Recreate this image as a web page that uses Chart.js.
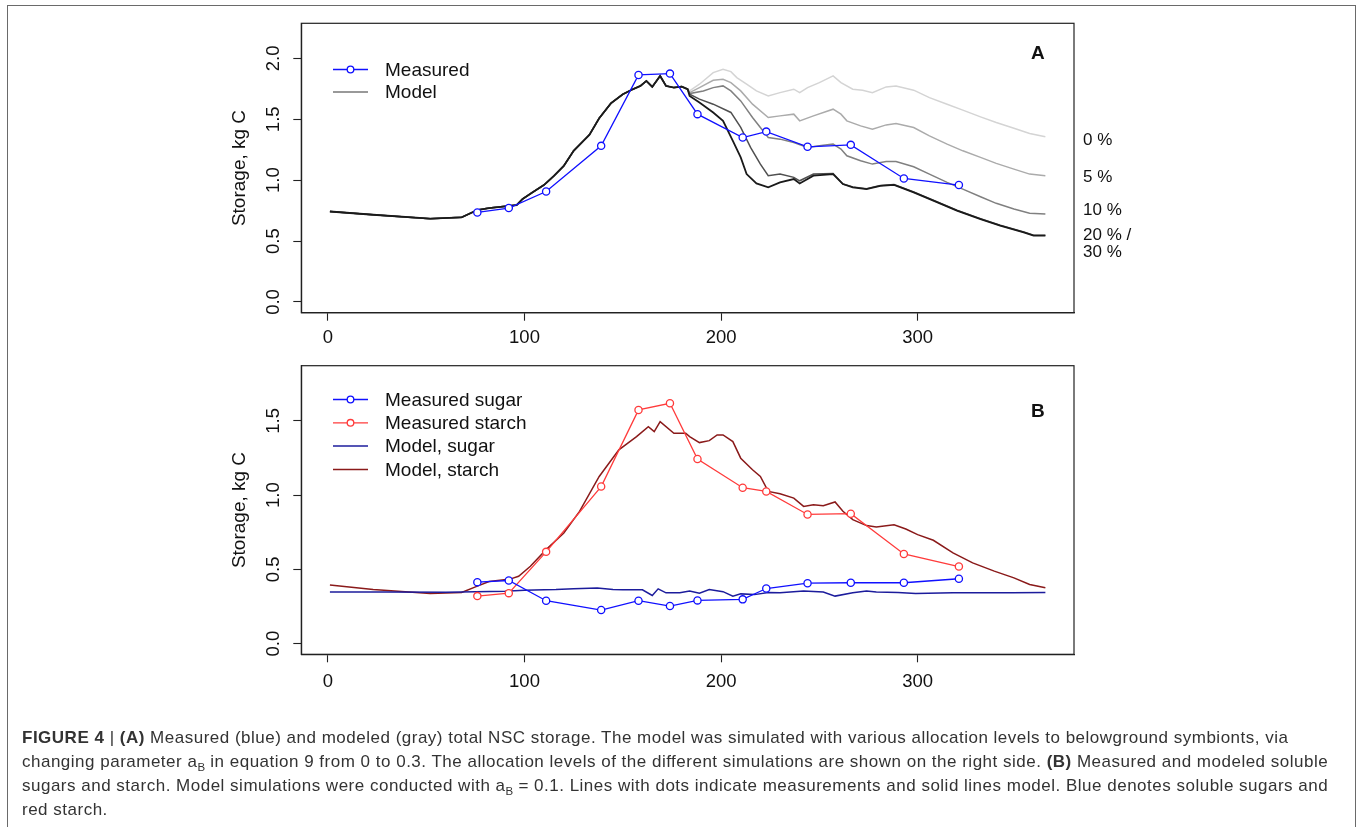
<!DOCTYPE html>
<html><head><meta charset="utf-8">
<script src="https://cdn.jsdelivr.net/npm/chart.js@4.4.0/dist/chart.umd.min.js"></script>
<style>
html,body{margin:0;padding:0;background:#fff;width:1358px;height:827px;overflow:hidden;position:relative;}
#frame{position:absolute;left:7px;top:5px;width:1349px;height:860px;border:1.5px solid #6a6a6a;box-sizing:border-box;}
canvas{position:absolute;left:0;}
.lab{position:absolute;font-family:"Liberation Sans",Arial,sans-serif;color:#111;white-space:nowrap;}
#caption{position:absolute;left:22px;top:726px;font-family:"Liberation Sans",Arial,sans-serif;font-size:17px;letter-spacing:0.5px;line-height:24px;color:#333;white-space:nowrap;}
#caption sub{font-size:11.5px;vertical-align:-4px;line-height:0;letter-spacing:0;}
</style></head>
<body>
<div id="frame"></div>
<canvas id="cA" width="1358" height="365" style="top:0"></canvas>
<canvas id="cB" width="1358" height="385" style="top:340px"></canvas>
<div class="lab" style="left:1031px;top:43px;font-size:19px;line-height:19px;font-weight:bold">A</div>
<div class="lab" style="left:1031px;top:401px;font-size:19px;line-height:19px;font-weight:bold">B</div>
<div class="lab" style="left:1083px;top:131px;font-size:17px;line-height:17px">0 %</div>
<div class="lab" style="left:1083px;top:168px;font-size:17px;line-height:17px">5 %</div>
<div class="lab" style="left:1083px;top:201px;font-size:17px;line-height:17px">10 %</div>
<div class="lab" style="left:1083px;top:226px;font-size:17px;line-height:17px">20 % /</div>
<div class="lab" style="left:1083px;top:243px;font-size:17px;line-height:17px">30 %</div>
<div id="caption"><b>FIGURE 4</b> | <b>(A)</b> Measured (blue) and modeled (gray) total NSC storage. The model was simulated with various allocation levels to belowground symbionts, via<br>changing parameter a<sub>B</sub> in equation 9 from 0 to 0.3. The allocation levels of the different simulations are shown on the right side. <b>(B)</b> Measured and modeled soluble<br>sugars and starch. Model simulations were conducted with a<sub>B</sub> = 0.1. Lines with dots indicate measurements and solid lines model. Blue denotes soluble sugars and<br>red starch.</div>
<script>
// ---------- DATA ----------
const xTicks = [0, 100, 200, 300];
const yTicksA = [0, 0.5, 1.0, 1.5, 2.0];
const yTicksB = [0, 0.5, 1.0, 1.5];

// Panel A: measured total NSC
const measDays = [76, 92, 111, 139, 158, 174, 188, 211, 223, 244, 266, 293, 321];
const measTotal = [0.735, 0.771, 0.907, 1.282, 1.864, 1.875, 1.542, 1.350, 1.399, 1.274, 1.290, 1.014, 0.960];

// Panel A: model, shared part before the simulations diverge
const commonDays = [1, 23, 52, 68, 76, 82, 96, 99, 104, 110, 115, 120, 125, 130, 133, 138, 144, 150, 155, 159, 162, 165, 169, 172, 176, 180, 183];
const commonVals = [0.743, 0.716, 0.684, 0.695, 0.755, 0.771, 0.796, 0.845, 0.899, 0.962, 1.036, 1.118, 1.241, 1.323, 1.372, 1.509, 1.632, 1.705, 1.746, 1.774, 1.815, 1.766, 1.856, 1.774, 1.760, 1.768, 1.747];

// Panel A: model after divergence, one per allocation level
const days0 = [184, 189, 196, 201, 205, 208, 213, 218, 224, 230, 237, 240, 244, 250, 257, 261, 267, 272, 277, 284, 289, 298, 306, 315, 323, 332, 340, 349, 357, 365];
const model0 = [1.733, 1.788, 1.883, 1.910, 1.891, 1.842, 1.788, 1.733, 1.692, 1.719, 1.747, 1.719, 1.760, 1.801, 1.856, 1.801, 1.747, 1.739, 1.719, 1.766, 1.774, 1.739, 1.678, 1.624, 1.575, 1.520, 1.473, 1.427, 1.383, 1.356];
const days5 = [184, 189, 196, 201, 205, 210, 216, 224, 230, 237, 240, 247, 257, 261, 264, 271, 277, 284, 289, 298, 306, 315, 323, 332, 340, 349, 357, 365];
const model5 = [1.719, 1.760, 1.820, 1.828, 1.801, 1.733, 1.624, 1.515, 1.528, 1.542, 1.487, 1.528, 1.583, 1.542, 1.487, 1.446, 1.419, 1.454, 1.465, 1.432, 1.364, 1.296, 1.241, 1.187, 1.138, 1.091, 1.050, 1.037];
const days10 = [184, 191, 196, 201, 205, 210, 216, 224, 230, 237, 244, 250, 257, 261, 264, 271, 277, 284, 289, 298, 306, 315, 323, 332, 340, 349, 357, 365];
const model10 = [1.711, 1.733, 1.760, 1.774, 1.733, 1.651, 1.515, 1.351, 1.337, 1.310, 1.269, 1.282, 1.296, 1.255, 1.200, 1.159, 1.132, 1.154, 1.154, 1.110, 1.050, 0.982, 0.927, 0.864, 0.810, 0.763, 0.728, 0.723];
const days20 = [184, 189, 196, 205, 210, 215, 220, 224, 230, 237, 240, 247, 257, 262, 267, 274, 281, 288, 298, 308, 320, 332, 342, 354, 359, 365];
const model20 = [1.706, 1.665, 1.624, 1.556, 1.433, 1.269, 1.132, 1.037, 1.050, 1.023, 0.995, 1.050, 1.055, 0.968, 0.945, 0.930, 0.957, 0.965, 0.903, 0.835, 0.753, 0.684, 0.630, 0.575, 0.548, 0.548];
const days30 = [184, 189, 196, 201, 206, 210, 213, 218, 224, 230, 237, 240, 247, 257, 262, 267, 274, 281, 288, 298, 308, 320, 332, 342, 354, 359, 365];
const model30 = [1.692, 1.637, 1.556, 1.487, 1.323, 1.187, 1.050, 0.973, 0.941, 0.982, 1.009, 0.973, 1.037, 1.050, 0.968, 0.941, 0.927, 0.954, 0.962, 0.900, 0.832, 0.750, 0.681, 0.627, 0.572, 0.545, 0.545];

// Panel B: measured sugar and starch (same sampling days as measDays)
const measSugar = [0.414, 0.425, 0.289, 0.226, 0.289, 0.253, 0.291, 0.298, 0.371, 0.407, 0.410, 0.410, 0.437];
const measStarch = [0.320, 0.340, 0.618, 1.058, 1.574, 1.619, 1.244, 1.050, 1.025, 0.870, 0.875, 0.604, 0.519];

// Panel B: model sugar and starch
const sugarDays = [1, 30, 60, 75, 90, 100, 110, 116, 125, 137, 145, 150, 160, 165, 168, 172, 179, 184, 189, 194, 201, 206, 210, 217, 224, 230, 242, 252, 258, 267, 274, 279, 290, 299, 318, 338, 348, 365];
const modelSugar = [0.347, 0.347, 0.346, 0.350, 0.352, 0.360, 0.362, 0.364, 0.370, 0.375, 0.365, 0.363, 0.362, 0.324, 0.369, 0.342, 0.343, 0.354, 0.340, 0.365, 0.350, 0.320, 0.335, 0.330, 0.345, 0.343, 0.354, 0.348, 0.320, 0.343, 0.354, 0.348, 0.345, 0.338, 0.343, 0.343, 0.343, 0.345];
const starchDays = [1, 23, 52, 68, 76, 82, 93, 97, 103, 111, 120, 128, 138, 148, 157, 163, 166, 169, 176, 182, 184, 189, 194, 198, 201, 206, 210, 216, 220, 224, 230, 237, 242, 247, 252, 258, 262, 267, 274, 279, 288, 294, 300, 308, 318, 328, 339, 349, 357, 365];
const modelStarch = [0.394, 0.365, 0.338, 0.345, 0.387, 0.418, 0.436, 0.454, 0.521, 0.633, 0.745, 0.891, 1.126, 1.305, 1.394, 1.461, 1.428, 1.495, 1.417, 1.417, 1.394, 1.354, 1.367, 1.406, 1.406, 1.361, 1.249, 1.171, 1.126, 1.025, 1.009, 0.980, 0.924, 0.935, 0.929, 0.954, 0.891, 0.835, 0.795, 0.786, 0.801, 0.772, 0.734, 0.696, 0.611, 0.544, 0.488, 0.443, 0.398, 0.376];

const legendLabelsA = ['Measured', 'Model'];
const legendLabelsB = ['Measured sugar', 'Measured starch', 'Model, sugar', 'Model, starch'];
const yTitle = 'Storage, kg C';

// ---------- HELPERS ----------
const FONT = '"Liberation Sans", Arial, sans-serif';
Chart.defaults.font.family = FONT;
const pts = (d, v) => d.map((x, i) => ({x: x, y: v[i]}));
const withCommon = (d, v) => pts(commonDays, commonVals).concat(pts(d, v));
const xMin = -13.56, xMax = 379.56;

const boxPlugin = {
  id: 'rbox',
  afterDraw(chart) {
    const {ctx, chartArea: a} = chart;
    ctx.save();
    ctx.strokeStyle = '#222'; ctx.lineWidth = 1.2;
    ctx.strokeRect(a.left, a.top, a.right - a.left, a.bottom - a.top);
    ctx.restore();
  }
};
const legendPlugin = {
  id: 'rlegend',
  afterDraw(chart, args, o) {
    const ctx = chart.ctx;
    ctx.save();
    ctx.font = '19px ' + FONT;
    ctx.textBaseline = 'middle';
    o.items.forEach((it, i) => {
      const y = o.y + i * o.gap;
      ctx.strokeStyle = it.color; ctx.lineWidth = it.width;
      ctx.beginPath(); ctx.moveTo(o.x, y); ctx.lineTo(o.x + o.len, y); ctx.stroke();
      if (it.point) {
        ctx.lineWidth = 1.3;
        ctx.beginPath(); ctx.arc(o.x + o.len / 2, y, 3.3, 0, Math.PI * 2);
        ctx.fillStyle = '#fff'; ctx.fill(); ctx.stroke();
      }
      ctx.fillStyle = '#111';
      ctx.fillText(it.text, o.textX, y + 1);
    });
    ctx.restore();
  }
};

function scales(ymin, ymax, yt, xPad) {
  const grid = {display: true, drawOnChartArea: false, drawTicks: true, tickLength: 8, tickColor: '#222', tickWidth: 1.1};
  const border = {display: true, color: '#222', width: 1.2};
  return {
    x: {
      type: 'linear', min: xMin, max: xMax,
      afterBuildTicks: s => { s.ticks = xTicks.map(v => ({value: v})); },
      afterFit: s => { s.height = 45; },
      grid: grid, border: border,
      ticks: {color: '#111', font: {size: 18.5}, padding: xPad, maxRotation: 0, autoSkip: false, callback: v => String(v)}
    },
    y: {
      type: 'linear', min: ymin, max: ymax,
      afterBuildTicks: s => { s.ticks = yt.map(v => ({value: v})); },
      afterFit: s => { s.width = 100; },
      grid: grid, border: border,
      ticks: {color: '#111', font: {size: 18.5}, padding: 7, minRotation: 90, maxRotation: 90, crossAlign: 'center', autoSkip: false, callback: v => Number(v).toFixed(1)},
      title: {display: true, text: yTitle, color: '#111', font: {size: 19}, padding: {top: 27, bottom: 0}}
    }
  };
}

const modelLine = (label, data, color, w) => ({label: label, data: data, borderColor: color, borderWidth: w, pointRadius: 0, tension: 0, fill: false});
const measLine = (label, data, color) => ({label: label, data: data, borderColor: color, borderWidth: 1.3, pointRadius: 3.6, pointBorderWidth: 1.3, pointBackgroundColor: '#fff', pointBorderColor: color, tension: 0, fill: false});

// ---------- PANEL A ----------
new Chart(document.getElementById('cA'), {
  type: 'line',
  data: {
    datasets: [
      measLine(legendLabelsA[0], pts(measDays, measTotal), '#1010ff'),
      modelLine('Model 30 %', withCommon(days30, model30), '#1a1a1a', 1.8),
      modelLine('Model 20 %', withCommon(days20, model20), '#505050', 1.5),
      modelLine('Model 10 %', withCommon(days10, model10), '#808080', 1.5),
      modelLine('Model 5 %', withCommon(days5, model5), '#ababab', 1.5),
      modelLine('Model 0 %', withCommon(days0, model0), '#d4d4d4', 1.5)
    ]
  },
  options: {
    responsive: false, animation: false, events: [],
    layout: {padding: {left: 201.3, top: 23.3, right: 284, bottom: 7.3}},
    scales: scales(-0.088, 2.288, yTicksA, 6.5),
    plugins: {
      legend: {display: false}, tooltip: {enabled: false},
      rlegend: {x: 333, len: 35, textX: 385, y: 69.5, gap: 22.4, items: [
        {text: legendLabelsA[0], color: '#1010ff', width: 1.3, point: true},
        {text: legendLabelsA[1], color: '#999999', width: 2}
      ]}
    }
  },
  plugins: [boxPlugin, legendPlugin]
});

// ---------- PANEL B ----------
new Chart(document.getElementById('cB'), {
  type: 'line',
  data: {
    datasets: [
      measLine(legendLabelsB[0], pts(measDays, measSugar), '#1010ff'),
      measLine(legendLabelsB[1], pts(measDays, measStarch), '#ff3b3b'),
      modelLine(legendLabelsB[2], pts(sugarDays, modelSugar), '#1c1c9c', 1.5),
      modelLine(legendLabelsB[3], pts(starchDays, modelStarch), '#8a1a1a', 1.5)
    ]
  },
  options: {
    responsive: false, animation: false, events: [],
    layout: {padding: {left: 201.3, top: 25.7, right: 284, bottom: 25.7}},
    scales: scales(-0.072, 1.872, yTicksB, 8.3),
    plugins: {
      legend: {display: false}, tooltip: {enabled: false},
      rlegend: {x: 333, len: 35, textX: 385, y: 59.5, gap: 23.3, items: [
        {text: legendLabelsB[0], color: '#1010ff', width: 1.3, point: true},
        {text: legendLabelsB[1], color: '#ff3b3b', width: 1.3, point: true},
        {text: legendLabelsB[2], color: '#1c1c9c', width: 1.5},
        {text: legendLabelsB[3], color: '#8a1a1a', width: 1.5}
      ]}
    }
  },
  plugins: [boxPlugin, legendPlugin]
});
</script>
</body></html>
